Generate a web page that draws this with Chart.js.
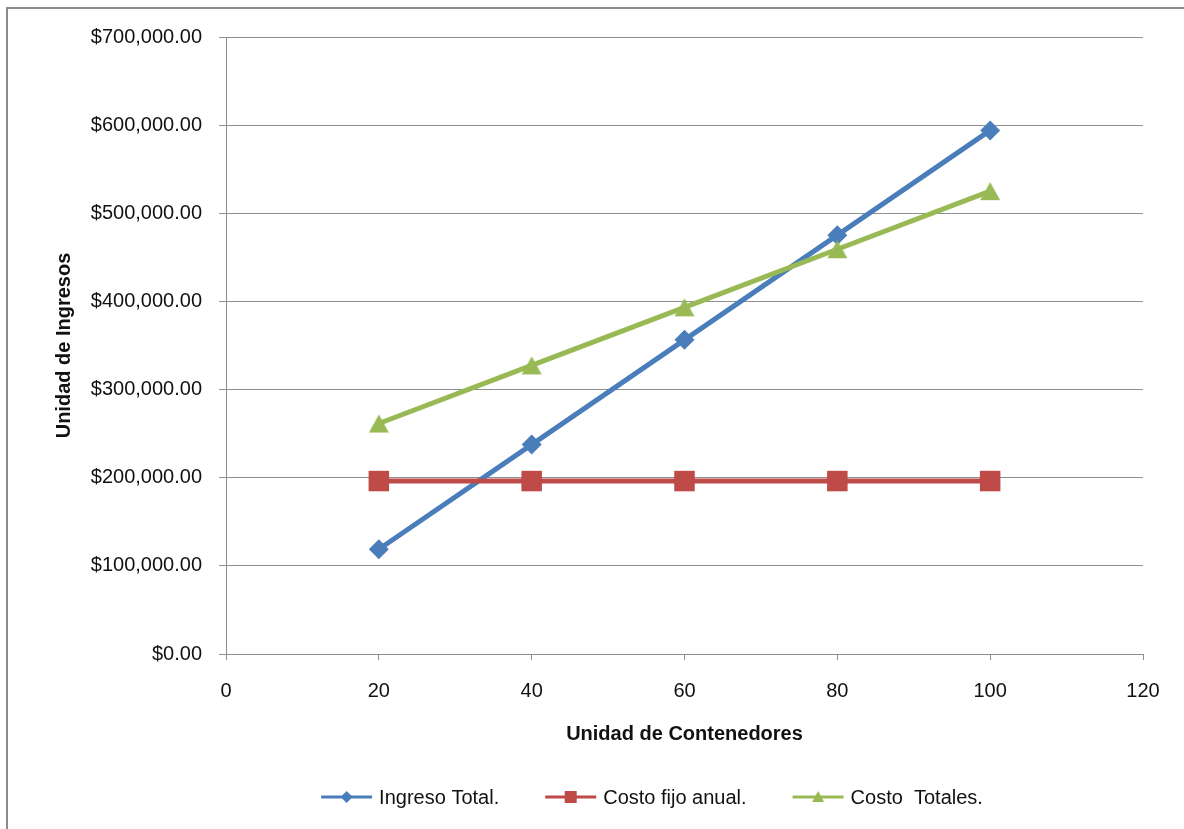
<!DOCTYPE html>
<html lang="es">
<head>
<meta charset="utf-8">
<title>Ingreso y costos por contenedores</title>
<script src="https://cdn.jsdelivr.net/npm/chart.js@4.4.1/dist/chart.umd.min.js"></script>
<style>
  html, body { margin: 0; padding: 0; background: #fff; overflow: hidden; }
  #frame {
    position: absolute; left: 6px; top: 7px; width: 2000px; height: 2000px;
    border-top: 2px solid #8b8b8b; border-left: 2px solid #8b8b8b;
    pointer-events: none;
  }
  #chart { position: absolute; left: 0; top: 0; }
</style>
</head>
<body>
<div id="frame"></div>
<canvas id="chart" width="1184" height="829"></canvas>
<script>
// Unidades de contenedores (eje X)
const containers = [20, 40, 60, 80, 100];

// Series en dólares
const ingresoTotal = [118800, 237600, 356400, 475200, 594000];
const costoFijoAnual = [196200, 196200, 196200, 196200, 196200];
const costoTotales = [261500, 327400, 393300, 459200, 525100];

const seriesNames = ['Ingreso Total.', 'Costo fijo anual.', 'Costo  Totales.'];

// Ejes
const xTicks = [0, 20, 40, 60, 80, 100, 120];
const yTicks = [0, 100000, 200000, 300000, 400000, 500000, 600000, 700000];

const FONT = '"Liberation Sans", Arial, sans-serif';
const BLUE = '#4a7ebb', RED = '#be4b48', GREEN = '#98b954';
const GRID = '#8e8e8e';

// Triangle marker centred on its bounding box
function triangleMarker(w, h, color) {
  const c = document.createElement('canvas');
  c.width = w + 2; c.height = h + 2;
  const g = c.getContext('2d');
  g.fillStyle = color;
  g.beginPath();
  g.moveTo(1, h + 1);
  g.lineTo(w + 1, h + 1);
  g.lineTo(w / 2 + 1, 1);
  g.closePath();
  g.fill();
  return c;
}

function toPoints(values) {
  return containers.map((x, i) => ({ x: x, y: values[i] }));
}

function money(v) {
  return '$' + Number(v).toLocaleString('en-US', { minimumFractionDigits: 2, maximumFractionDigits: 2 });
}

// Legend drawn below the axis title: short line with marker, then the name
const bottomLegend = {
  id: 'bottomLegend',
  afterDraw(chart) {
    const ctx = chart.ctx;
    const y = 797;
    const lineLen = 51, textGap = 7, itemGap = 46;
    ctx.save();
    ctx.font = '20px ' + FONT;
    const widths = seriesNames.map(t => ctx.measureText(t).width);
    const total = widths.reduce((a, w) => a + lineLen + textGap + w, 0) + itemGap * (seriesNames.length - 1);
    let x = 652 - total / 2;
    chart.data.datasets.forEach((ds, i) => {
      ctx.strokeStyle = ds.borderColor;
      ctx.lineWidth = 3;
      ctx.beginPath();
      ctx.moveTo(x, y);
      ctx.lineTo(x + lineLen, y);
      ctx.stroke();
      const cx = x + lineLen / 2;
      ctx.fillStyle = ds.borderColor;
      ctx.beginPath();
      if (i === 0) {
        ctx.moveTo(cx, y - 6); ctx.lineTo(cx + 6, y); ctx.lineTo(cx, y + 6); ctx.lineTo(cx - 6, y);
      } else if (i === 1) {
        ctx.rect(cx - 6, y - 6, 12, 12);
      } else {
        ctx.moveTo(cx - 6, y + 5); ctx.lineTo(cx + 6, y + 5); ctx.lineTo(cx, y - 6);
      }
      ctx.closePath();
      ctx.fill();
      ctx.fillStyle = '#111';
      ctx.textBaseline = 'middle';
      ctx.textAlign = 'left';
      ctx.fillText(seriesNames[i], x + lineLen + textGap, y + 1);
      x += lineLen + textGap + widths[i] + itemGap;
    });
    ctx.restore();
  }
};

new Chart(document.getElementById('chart'), {
  type: 'line',
  data: {
    datasets: [
      {
        label: seriesNames[0], data: toPoints(ingresoTotal),
        borderColor: BLUE, backgroundColor: BLUE, borderWidth: 5,
        pointStyle: 'rectRot', pointRadius: 10, pointBorderWidth: 0, order: 3
      },
      {
        label: seriesNames[1], data: toPoints(costoFijoAnual),
        borderColor: RED, backgroundColor: RED, borderWidth: 5,
        pointStyle: 'rect', pointRadius: 14.5, pointBorderWidth: 0, order: 2
      },
      {
        label: seriesNames[2], data: toPoints(costoTotales),
        borderColor: GREEN, backgroundColor: GREEN, borderWidth: 5,
        pointStyle: triangleMarker(20, 18, GREEN), pointRadius: 10, pointBorderWidth: 0, order: 1
      }
    ]
  },
  options: {
    responsive: false,
    animation: false,
    events: [],
    layout: { padding: { left: 0, right: 41, top: 37, bottom: 75 } },
    elements: { line: { tension: 0 } },
    plugins: { legend: { display: false }, tooltip: { enabled: false } },
    scales: {
      x: {
        type: 'linear',
        min: xTicks[0], max: xTicks[xTicks.length - 1],
        afterBuildTicks(scale) { scale.ticks = xTicks.map(v => ({ value: v })); },
        afterFit(scale) { scale.height = 100; },
        grid: { drawOnChartArea: false, drawTicks: true, tickLength: 6, color: GRID, lineWidth: 1 },
        border: { display: true, color: GRID, width: 1 },
        ticks: { color: '#111', font: { family: FONT, size: 20 }, padding: 19, maxRotation: 0 },
        title: {
          display: true, text: 'Unidad de Contenedores', color: '#111',
          font: { family: FONT, size: 20, weight: 'bold' }, padding: { top: 0, bottom: 8 }
        }
      },
      y: {
        min: yTicks[0], max: yTicks[yTicks.length - 1],
        afterBuildTicks(scale) { scale.ticks = yTicks.map(v => ({ value: v })); },
        afterFit(scale) { scale.width = 226; },
        grid: { drawOnChartArea: true, drawTicks: true, tickLength: 7, color: GRID, lineWidth: 1 },
        border: { display: true, color: GRID, width: 1 },
        ticks: { color: '#111', font: { family: FONT, size: 20 }, padding: 17, callback: v => money(v) },
        title: {
          display: true, text: 'Unidad de Ingresos', color: '#111',
          font: { family: FONT, size: 20, weight: 'bold' }, padding: { top: 52, bottom: 0 }
        }
      }
    }
  },
  plugins: [bottomLegend]
});
</script>
</body>
</html>
